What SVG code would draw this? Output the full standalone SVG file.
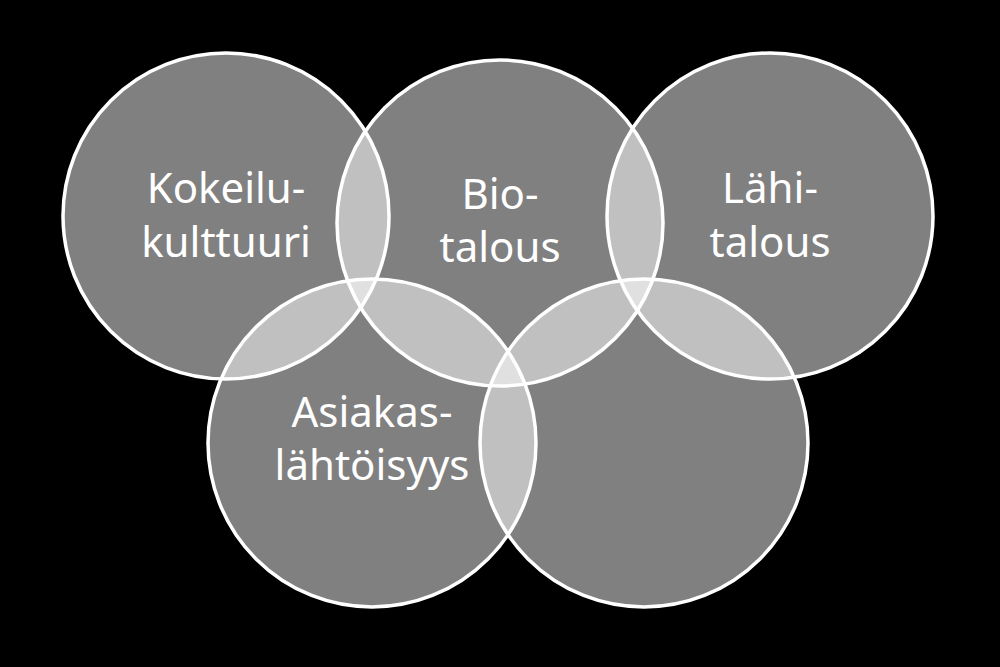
<svg xmlns="http://www.w3.org/2000/svg" width="1000" height="667" viewBox="0 0 1000 667">
  <style>
    .c { fill: #ffffff; fill-opacity: 0.5; stroke: #ffffff; stroke-width: 3.5; }
    .t { font-family: "Noto Sans", "Open Sans", sans-serif; font-size: 42px; fill: #ffffff; text-anchor: middle; }
  </style>
  <rect width="1000" height="667" fill="#000000"/>
  <g id="kokeilukulttuuri">
    <circle class="c" cx="226" cy="216" r="163"/>
  </g>
  <g id="biotalous">
    <circle class="c" cx="500" cy="223" r="163"/>
  </g>
  <g id="lahitalous">
    <circle class="c" cx="770" cy="216" r="163"/>
  </g>
  <g id="asiakaslahtoisyys">
    <circle class="c" cx="372" cy="443" r="164"/>
  </g>
  <g id="empty">
    <circle class="c" cx="644" cy="443" r="164"/>
  </g>
  <g id="connectors"></g>
  <g id="labels">
    <text class="t" x="226" y="203">Kokeilu-</text>
    <text class="t" x="226" y="257">kulttuuri</text>
    <text class="t" x="500" y="209">Bio-</text>
    <text class="t" x="500" y="262">talous</text>
    <text class="t" x="770" y="203">Lähi-</text>
    <text class="t" x="770" y="257">talous</text>
    <text class="t" x="372" y="427">Asiakas-</text>
    <text class="t" x="372" y="480">lähtöisyys</text>
  </g>
</svg>
